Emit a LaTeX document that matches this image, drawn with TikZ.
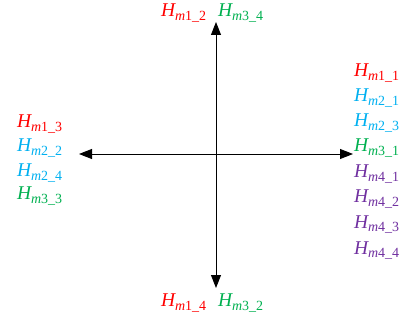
\documentclass[tikz,border=0pt]{standalone}
\usepackage{fontspec}
\setmainfont{Liberation Serif}
\usetikzlibrary{arrows.meta}
\definecolor{cred}{HTML}{FF0000}
\definecolor{ccyan}{HTML}{00B0F0}
\definecolor{cgreen}{HTML}{00B050}
\definecolor{cpurp}{HTML}{7030A0}
\newcommand{\hlab}[1]{{\fontsize{19.5}{21}\selectfont\itshape H\raisebox{-4pt}{\fontsize{14}{15}\selectfont\itshape m\upshape #1}}}
\begin{document}
\begin{tikzpicture}[x=1pt,y=-1pt,
  axis/.style={line width=0.9pt,{Triangle[length=13pt,width=10pt]}-{Triangle[length=13pt,width=10pt]}},
  lab/.style={anchor=base west,inner sep=0pt,outer sep=0pt}]
\useasboundingbox (0,0) rectangle (405,321);
\coordinate (top) at (216,22);
\coordinate (bot) at (216,288);
\coordinate (lft) at (79,154);
\coordinate (rgt) at (353,154);
\draw[axis] (top) -- (bot);
\draw[axis] (lft) -- (rgt);
% top
\node[lab,text=cred] (t1) at (161,17) {\hlab{1\_2}};
\node[lab,text=cgreen] (t2) at (218,17) {\hlab{3\_4}};
% bottom
\node[lab,text=cred] (b1) at (161,306) {\hlab{1\_4}};
\node[lab,text=cgreen] (b2) at (218,306) {\hlab{3\_2}};
% left
\node[lab,text=cred] (l1) at (17,128) {\hlab{1\_3}};
\node[lab,text=ccyan] (l2) at (17,152) {\hlab{2\_2}};
\node[lab,text=ccyan] (l3) at (17,176) {\hlab{2\_4}};
\node[lab,text=cgreen] (l4) at (17,200) {\hlab{3\_3}};
% right
\node[lab,text=cred] (r1) at (354,77) {\hlab{1\_1}};
\node[lab,text=ccyan] (r2) at (354,102) {\hlab{2\_1}};
\node[lab,text=ccyan] (r3) at (354,127) {\hlab{2\_3}};
\node[lab,text=cgreen] (r4) at (354,152) {\hlab{3\_1}};
\node[lab,text=cpurp] (r5) at (354,178) {\hlab{4\_1}};
\node[lab,text=cpurp] (r6) at (354,203) {\hlab{4\_2}};
\node[lab,text=cpurp] (r7) at (354,228) {\hlab{4\_3}};
\node[lab,text=cpurp] (r8) at (354,254) {\hlab{4\_4}};
\end{tikzpicture}
\end{document}
